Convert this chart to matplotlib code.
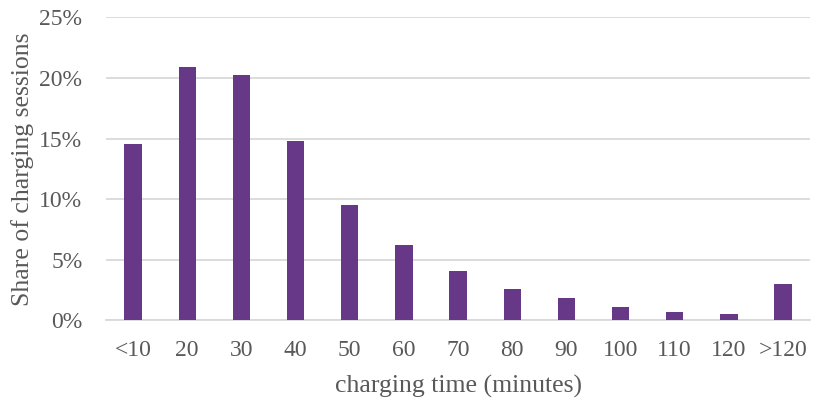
import matplotlib
matplotlib.use("Agg")
import matplotlib.pyplot as plt
from matplotlib.ticker import FuncFormatter

# data
categories = ["<10", "20", "30", "40", "50", "60", "70", "80", "90", "100", "110", "120", ">120"]
shares = [14.55, 20.9, 20.2, 14.8, 9.5, 6.2, 4.07, 2.56, 1.84, 1.07, 0.68, 0.5, 2.97]

plt.rcParams["font.family"] = ["Liberation Serif", "DejaVu Serif"]
text_col = "#595959"
grid_col = "#d9d9d9"

fig = plt.figure(figsize=(8.15, 4.01), dpi=100)
ax = fig.add_axes([0.130, 0.201, 0.864, 0.756])

x = range(len(categories))
ax.bar(x, shares, width=0.32, color="#673888", zorder=3)

ax.set_ylim(0, 25)
ax.set_xlim(-0.5, len(categories) - 0.5)
ax.set_yticks([0, 5, 10, 15, 20, 25])
ax.yaxis.set_major_formatter(FuncFormatter(lambda v, p: "%d%%" % v))
ax.set_xticks(list(x))
ax.set_xticklabels(categories)

ax.grid(axis="y", color=grid_col, lw=1.3, zorder=0)
for s in ["top", "right", "left"]:
	ax.spines[s].set_visible(False)
ax.spines["bottom"].set_color(grid_col)
ax.spines["bottom"].set_linewidth(1.3)

ax.tick_params(axis="both", length=0, labelsize=17, labelcolor=text_col)
ax.tick_params(axis="x", pad=14)
ax.tick_params(axis="y", pad=17)

ax.set_xlabel("charging time (minutes)", fontsize=18.5, color=text_col, labelpad=10)
ax.set_ylabel("Share of charging sessions", fontsize=18.5, color=text_col, labelpad=4)

fig.savefig("out.png", dpi=100)
